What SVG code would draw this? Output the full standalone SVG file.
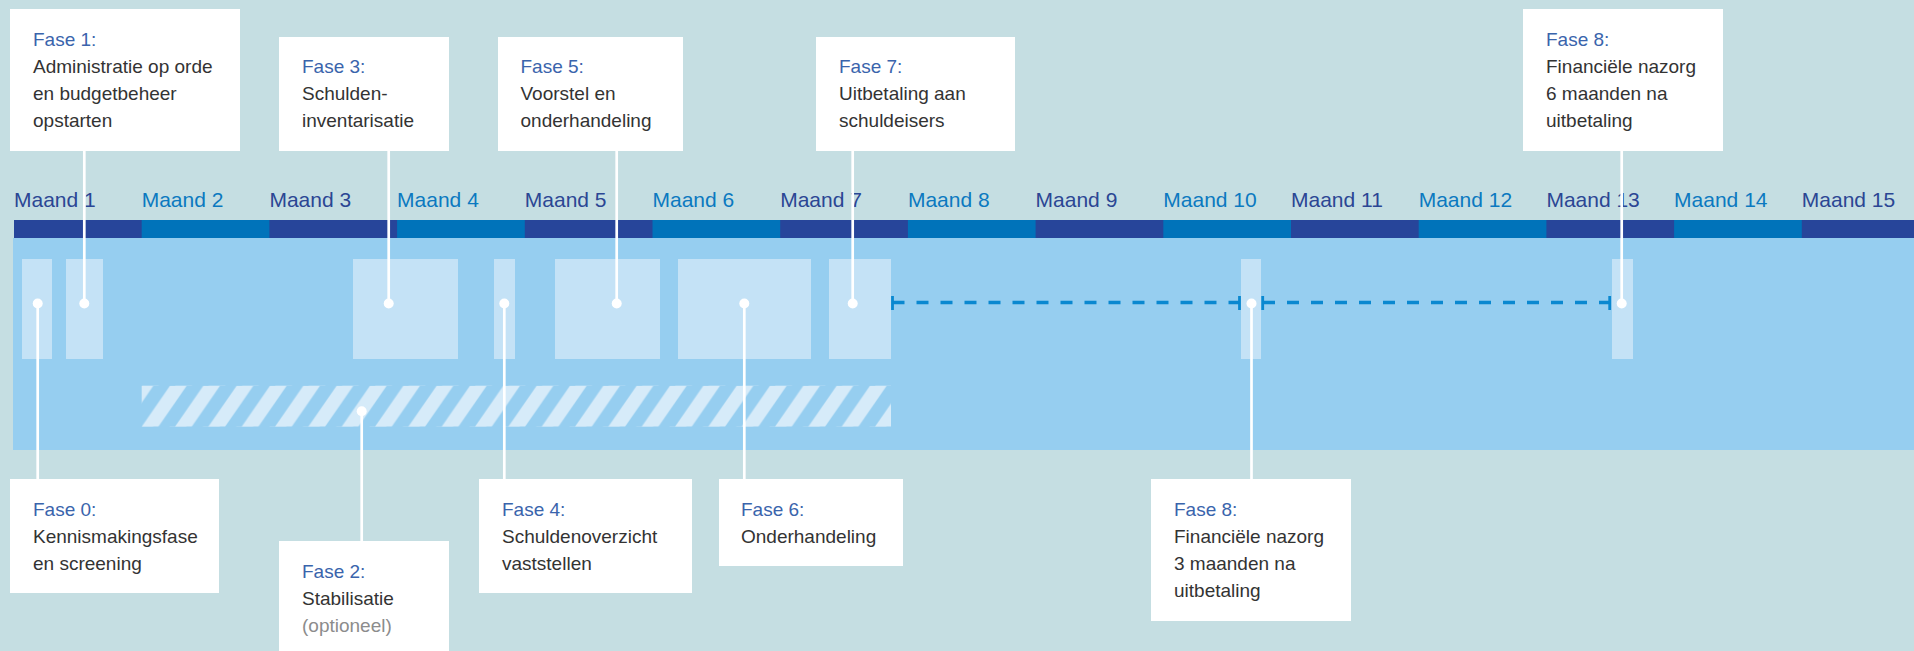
<svg xmlns="http://www.w3.org/2000/svg" width="1914" height="651" viewBox="0 0 1914 651">
<style>
.box{fill:#ffffff}
.t{font-family:"Liberation Sans",Arial,sans-serif;font-size:19px;fill:#333333}
.f{fill:#3a64ac}
.opt{fill:#8c8c8c}
.m{font-family:"Liberation Sans",Arial,sans-serif;font-size:21px}
.md{fill:#2b4694}
.ml{fill:#0b79c0}
.seg-d{fill:#27459a}
.seg-l{fill:#0073ba}
.blk{fill:#c4e2f6}
.conn{stroke:#ffffff;stroke-width:2.7;fill:none}
.dot{fill:#ffffff}
.dash{stroke:#0a88d0;stroke-width:3.5;stroke-dasharray:12 12;fill:none}
.tick{stroke:#0a88d0;stroke-width:2.8;fill:none}
</style>
<defs>
<pattern id="hatch" patternUnits="userSpaceOnUse" x="141.7" y="385.7" width="33.333" height="41">
<polygon points="0,41 16.667,41 45,0 28.333,0" fill="#d6ebf9"/>
<polygon points="-33.333,41 -16.667,41 11.667,0 -5,0" fill="#d6ebf9"/>
</pattern>
</defs>
<rect x="0" y="0" width="1914" height="651" fill="#c5dee2"/>
<g id="timeline">
<rect x="13" y="238" width="1901" height="212" fill="#96cef0"/>
<rect class="seg-d" x="14" y="220" width="1900" height="18"/>
<rect class="seg-l" x="141.7" y="220" width="127.7" height="18"/>
<rect class="seg-l" x="397.1" y="220" width="127.7" height="18"/>
<rect class="seg-l" x="652.5" y="220" width="127.7" height="18"/>
<rect class="seg-l" x="907.9" y="220" width="127.7" height="18"/>
<rect class="seg-l" x="1163.3" y="220" width="127.7" height="18"/>
<rect class="seg-l" x="1418.7" y="220" width="127.7" height="18"/>
<rect class="seg-l" x="1674.1" y="220" width="127.7" height="18"/>
<g class="m">
<text class="md" x="14" y="207">Maand 1</text>
<text class="ml" x="141.7" y="207">Maand 2</text>
<text class="md" x="269.4" y="207">Maand 3</text>
<text class="ml" x="397.1" y="207">Maand 4</text>
<text class="md" x="524.8" y="207">Maand 5</text>
<text class="ml" x="652.5" y="207">Maand 6</text>
<text class="md" x="780.2" y="207">Maand 7</text>
<text class="ml" x="907.9" y="207">Maand 8</text>
<text class="md" x="1035.6" y="207">Maand 9</text>
<text class="ml" x="1163.3" y="207">Maand 10</text>
<text class="md" x="1291" y="207">Maand 11</text>
<text class="ml" x="1418.7" y="207">Maand 12</text>
<text class="md" x="1546.4" y="207">Maand 13</text>
<text class="ml" x="1674.1" y="207">Maand 14</text>
<text class="md" x="1801.8" y="207">Maand 15</text>
</g>
<rect class="blk" x="22" y="259" width="30" height="100"/>
<rect class="blk" x="66" y="259" width="37" height="100"/>
<rect class="blk" x="353" y="259" width="105" height="100"/>
<rect class="blk" x="494" y="259" width="21" height="100"/>
<rect class="blk" x="555" y="259" width="105" height="100"/>
<rect class="blk" x="678" y="259" width="133" height="100"/>
<rect class="blk" x="829" y="259" width="62" height="100"/>
<rect class="blk" x="1241" y="259" width="20" height="100"/>
<rect class="blk" x="1612" y="259" width="21" height="100"/>
<rect x="141.7" y="385.7" width="749.3" height="41" fill="url(#hatch)"/>
</g>
<g id="connectors">
<line class="dash" x1="892.5" y1="302.5" x2="1239" y2="302.5"/>
<line class="dash" x1="1263" y1="302.5" x2="1610" y2="302.5"/>
<line class="tick" x1="892.5" y1="296" x2="892.5" y2="310"/>
<line class="tick" x1="1239.5" y1="296" x2="1239.5" y2="310"/>
<line class="tick" x1="1262.7" y1="296" x2="1262.7" y2="310"/>
<line class="tick" x1="1609.7" y1="296" x2="1609.7" y2="310"/>
<line class="conn" x1="37.7" y1="303.5" x2="37.7" y2="479"/>
<line class="conn" x1="84.3" y1="151" x2="84.3" y2="303.5"/>
<line class="conn" x1="361.7" y1="411.3" x2="361.7" y2="541"/>
<line class="conn" x1="388.7" y1="151" x2="388.7" y2="303.5"/>
<line class="conn" x1="504.3" y1="303.5" x2="504.3" y2="479"/>
<line class="conn" x1="616.7" y1="151" x2="616.7" y2="303.5"/>
<line class="conn" x1="744.3" y1="303.5" x2="744.3" y2="479"/>
<line class="conn" x1="852.7" y1="151" x2="852.7" y2="303.5"/>
<line class="conn" x1="1251.5" y1="303.5" x2="1251.5" y2="479"/>
<line class="conn" x1="1621.7" y1="151" x2="1621.7" y2="303.5"/>
<circle class="dot" cx="37.7" cy="303.5" r="5"/>
<circle class="dot" cx="84.3" cy="303.5" r="5"/>
<circle class="dot" cx="361.7" cy="411.3" r="5"/>
<circle class="dot" cx="388.7" cy="303.5" r="5"/>
<circle class="dot" cx="504.3" cy="303.5" r="5"/>
<circle class="dot" cx="616.7" cy="303.5" r="5"/>
<circle class="dot" cx="744.3" cy="303.5" r="5"/>
<circle class="dot" cx="852.7" cy="303.5" r="5"/>
<circle class="dot" cx="1251.5" cy="303.5" r="5"/>
<circle class="dot" cx="1621.7" cy="303.5" r="5"/>
</g>
<g id="fase1">
<rect class="box" x="10" y="9" width="230" height="142"/>
<text class="t" x="33"><tspan class="f" x="33" y="46">Fase 1:</tspan><tspan x="33" y="73">Administratie op orde</tspan><tspan x="33" y="100">en budgetbeheer</tspan><tspan x="33" y="127">opstarten</tspan></text>
</g>
<g id="fase3">
<rect class="box" x="279" y="37" width="170" height="114"/>
<text class="t"><tspan class="f" x="302" y="73">Fase 3:</tspan><tspan x="302" y="100">Schulden-</tspan><tspan x="302" y="127">inventarisatie</tspan></text>
</g>
<g id="fase5">
<rect class="box" x="498" y="37" width="185" height="114"/>
<text class="t"><tspan class="f" x="520.5" y="73">Fase 5:</tspan><tspan x="520.5" y="100">Voorstel en</tspan><tspan x="520.5" y="127">onderhandeling</tspan></text>
</g>
<g id="fase7">
<rect class="box" x="816" y="37" width="199" height="114"/>
<text class="t"><tspan class="f" x="839" y="73">Fase 7:</tspan><tspan x="839" y="100">Uitbetaling aan</tspan><tspan x="839" y="127">schuldeisers</tspan></text>
</g>
<g id="fase8-6m">
<rect class="box" x="1523" y="9" width="200" height="142"/>
<text class="t"><tspan class="f" x="1546" y="46">Fase 8:</tspan><tspan x="1546" y="73">Financiële nazorg</tspan><tspan x="1546" y="100">6 maanden na</tspan><tspan x="1546" y="127">uitbetaling</tspan></text>
</g>
<g id="fase0">
<rect class="box" x="10" y="479" width="209" height="114"/>
<text class="t"><tspan class="f" x="33" y="516">Fase 0:</tspan><tspan x="33" y="543">Kennismakingsfase</tspan><tspan x="33" y="570">en screening</tspan></text>
</g>
<g id="fase2">
<rect class="box" x="279" y="541" width="170" height="110"/>
<text class="t"><tspan class="f" x="302" y="578">Fase 2:</tspan><tspan x="302" y="605">Stabilisatie</tspan><tspan class="opt" x="302" y="632">(optioneel)</tspan></text>
</g>
<g id="fase4">
<rect class="box" x="479" y="479" width="213" height="114"/>
<text class="t"><tspan class="f" x="502" y="516">Fase 4:</tspan><tspan x="502" y="543">Schuldenoverzicht</tspan><tspan x="502" y="570">vaststellen</tspan></text>
</g>
<g id="fase6">
<rect class="box" x="719" y="479" width="184" height="87"/>
<text class="t"><tspan class="f" x="741" y="516">Fase 6:</tspan><tspan x="741" y="543">Onderhandeling</tspan></text>
</g>
<g id="fase8-3m">
<rect class="box" x="1151" y="479" width="200" height="142"/>
<text class="t"><tspan class="f" x="1174" y="516">Fase 8:</tspan><tspan x="1174" y="543">Financiële nazorg</tspan><tspan x="1174" y="570">3 maanden na</tspan><tspan x="1174" y="597">uitbetaling</tspan></text>
</g>
</svg>
